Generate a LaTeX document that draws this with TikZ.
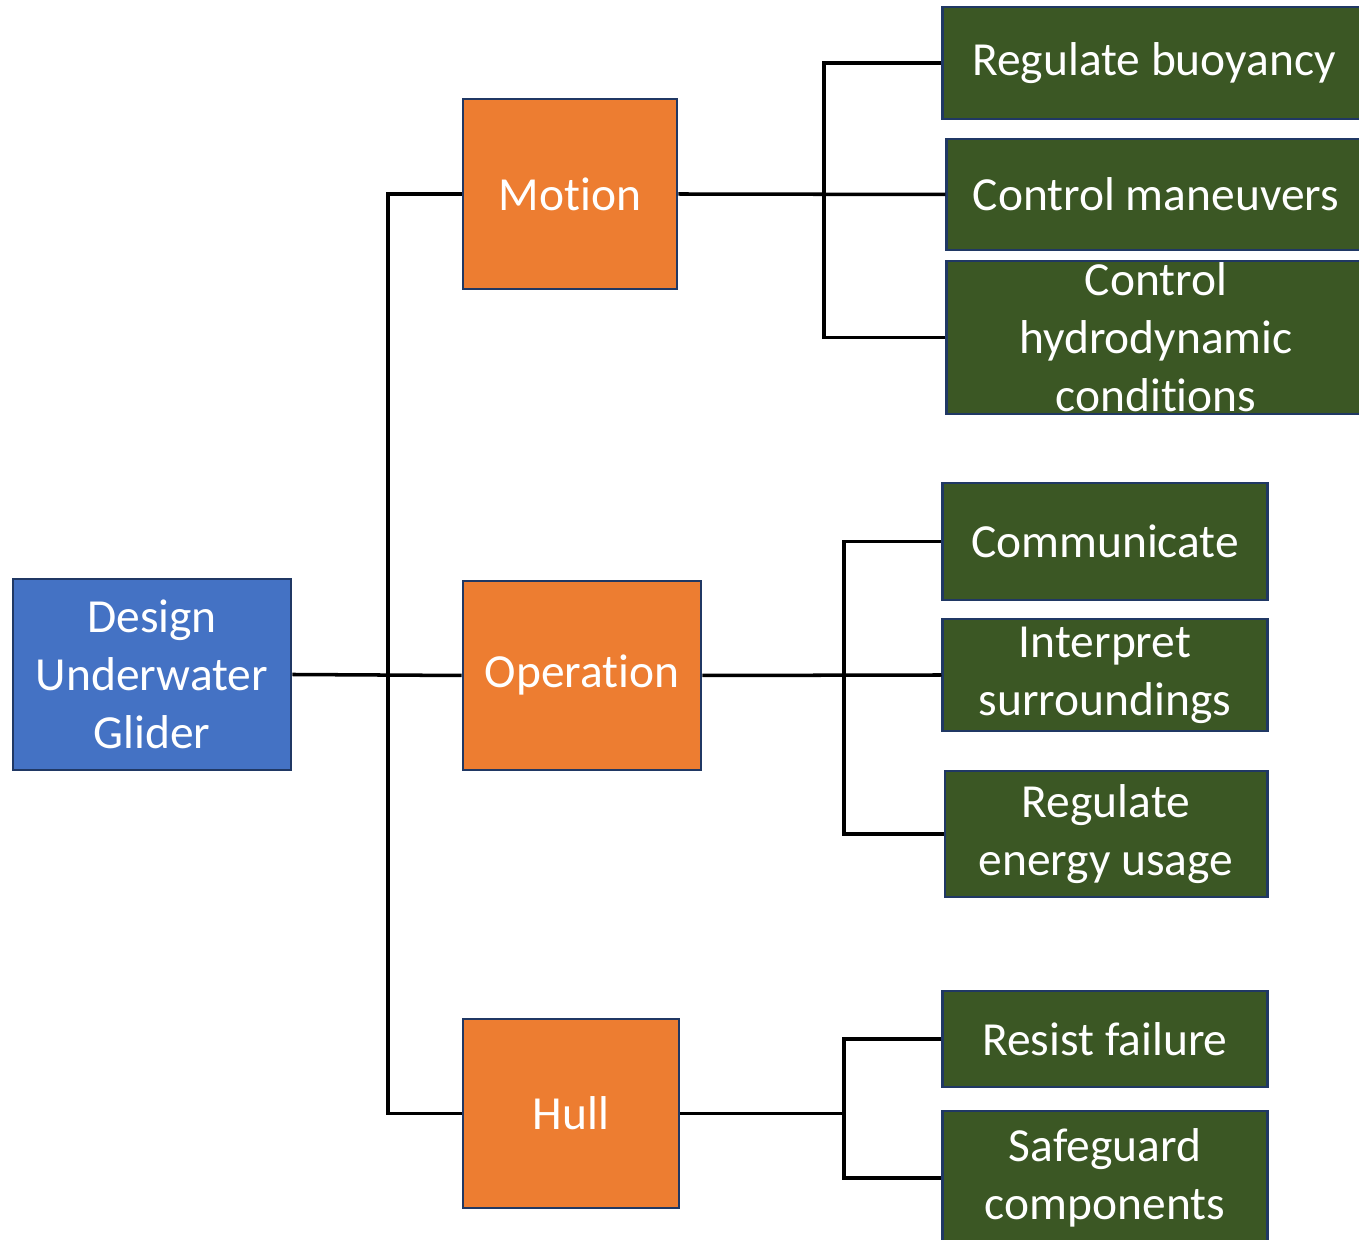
\documentclass[tikz,border=0pt]{standalone}
\usepackage{fontspec}
\setmainfont{Carlito}[RawFeature={-liga;-clig;-calt;-dlig}]
\usepackage{tikz}
\usetikzlibrary{positioning}
\definecolor{topblue}{HTML}{4472C4}
\definecolor{midorange}{HTML}{ED7D31}
\definecolor{leafgreen}{HTML}{3B5724}
\definecolor{edgeblue}{HTML}{203864}

\begin{document}
\begin{tikzpicture}[x=0.01cm, y=-0.01cm,
    box/.style={draw=edgeblue, line width=0.8pt, text=white, align=center,
                inner sep=0pt, font=\fontsize{13.5pt}{16.5pt}\selectfont},
    topbox/.style={box, fill=topblue},
    midbox/.style={box, fill=midorange},
    leafbox/.style={box, fill=leafgreen},
    link/.style={line width=1pt, black}]
  \clip (0,0) rectangle (1359,1240);
  \useasboundingbox (0,0) rectangle (1359,1240);
  % root
  \node[topbox, minimum width=2.78cm, minimum height=1.91cm] (design) at (152,674.5) {Design\\Underwater\\Glider};
  % functions
  \node[midbox, minimum width=2.14cm, minimum height=1.90cm] (motion) at (570,194) {Mot\kern0pt ion};
  \node[midbox, minimum width=2.38cm, minimum height=1.89cm] (operation) at (582,675.5) {Operat\kern0pt ion};
  \node[midbox, minimum width=2.16cm, minimum height=1.89cm] (hull) at (571,1113.5) {Hull};
  % sub-functions
  \node[leafbox, minimum width=4.22cm, minimum height=1.12cm] (buoy) at (1154,63) {Regulate buoyancy};
  \node[leafbox, minimum width=4.18cm, minimum height=1.11cm] (maneuv) at (1156,194.5) {Control maneuvers};
  \node[leafbox, minimum width=4.18cm, minimum height=1.53cm] (hydro) at (1156,337.5) {Control\\hydrodynamic\\condit\kern0pt ions};
  \node[leafbox, minimum width=3.24cm, minimum height=1.17cm] (commun) at (1105,541.5) {Communicate};
  \node[leafbox, minimum width=3.24cm, minimum height=1.12cm] (interp) at (1105,675) {Interpret\\surroundings};
  \node[leafbox, minimum width=3.22cm, minimum height=1.26cm] (energy) at (1106,834) {Regulate\\energy usage};
  \node[leafbox, minimum width=3.24cm, minimum height=0.96cm] (resist) at (1105,1039) {Resist failure};
  \node[leafbox, minimum width=3.24cm, minimum height=1.34cm] (safe) at (1105,1178) {Safeguard\\components};
  % junction points
  \coordinate (spine) at (388,674.5);
  \coordinate (mspine) at (824,194);
  \coordinate (ospine) at (844,675);
  \coordinate (hspine) at (844,1113.5);
  % connectors
  \draw[link] (design.east) -- (operation.west);
  \draw[link] (motion.west) -| (spine) |- (hull.west);
  \draw[link] (motion.east) -- (maneuv.west);
  \draw[link] (buoy.west) -| (mspine) |- (hydro.west);
  \draw[link] (operation.east) -- (interp.west);
  \draw[link] (commun.west) -| (ospine) |- (energy.west);
  \draw[link] (hull.east) -- (hspine);
  \draw[link] (resist.west) -| (hspine) |- (safe.west);
\end{tikzpicture}
\end{document}
